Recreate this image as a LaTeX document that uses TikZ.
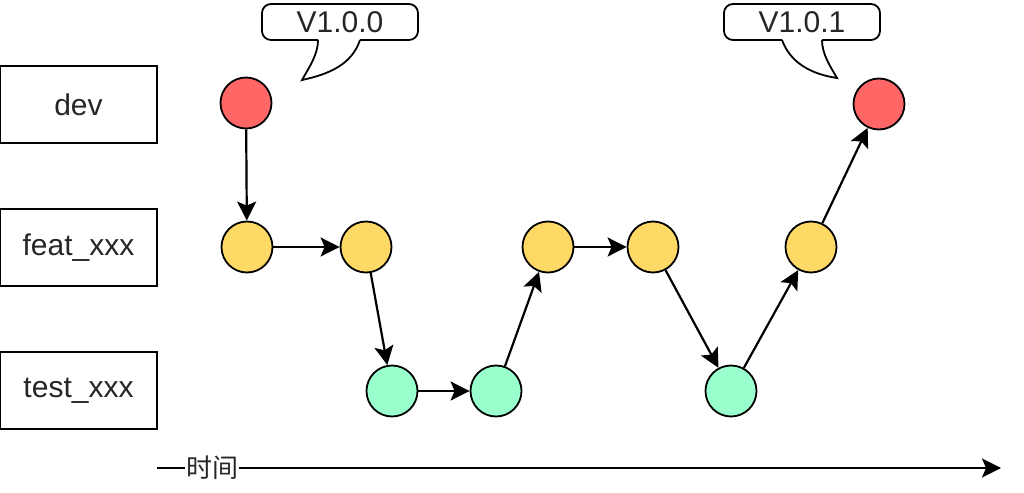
\documentclass[tikz,border=0pt]{standalone}
\usepackage{fontspec}
\setmainfont{Liberation Sans}
\newfontfamily\cjk{Noto Sans CJK SC}
\usetikzlibrary{arrows.meta}
\definecolor{cred}{HTML}{FF6666}
\definecolor{cyel}{HTML}{FFD966}
\definecolor{cgrn}{HTML}{99FFCC}
\begin{document}
\begin{tikzpicture}[x=1pt,y=-1pt,
  lane/.style={draw,line width=2pt,minimum width=157pt,minimum height=77pt,inner sep=0pt,font=\fontsize{30}{34}\selectfont,text=black!85},
  commit/.style={circle,draw,line width=1.8pt,minimum size=51pt,inner sep=0pt},
  conn/.style={line width=2.2pt,-{Stealth[length=19pt,width=19pt,inset=4pt]}},
  lbl/.style={font=\fontsize{30}{34}\selectfont,text=black!85}]
\useasboundingbox (0,0) rectangle (1024,492);
% lanes
\node[lane] (dev) at (78.5,104.5) {dev};
\node[lane] (feat) at (78.5,247.5) {feat\_xxx};
\node[lane] (test) at (78.5,390.5) {test\_xxx};
% commits
\node[commit,fill=cred] (d1) at (246,103) {};
\node[commit,fill=cred] (d2) at (879,104) {};
\node[commit,fill=cyel] (f1) at (247,247) {};
\node[commit,fill=cyel] (f2) at (366,247) {};
\node[commit,fill=cyel] (f3) at (548,247) {};
\node[commit,fill=cyel] (f4) at (653,247) {};
\node[commit,fill=cyel] (f5) at (811,247) {};
\node[commit,fill=cgrn] (t1) at (392,391) {};
\node[commit,fill=cgrn] (t2) at (496,391) {};
\node[commit,fill=cgrn] (t3) at (731,391) {};
% connectors
\draw[conn] (d1) -- (f1);
\draw[conn] (f1) -- (f2);
\draw[conn] (f2) -- (t1);
\draw[conn] (t1) -- (t2);
\draw[conn] (t2) -- (f3);
\draw[conn] (f3) -- (f4);
\draw[conn] (f4) -- (t3);
\draw[conn] (t3) -- (f5);
\draw[conn] (f5) -- (d2);
% callouts
\draw[line width=1.8pt,rounded corners=9pt] (318,40) -- (262,40) -- (262,4) -- (418,4) -- (418,40) -- (360,40);
\draw[line width=1.8pt] (360,40) .. controls (352,64) and (330,74) .. (302,80) .. controls (310,66) and (318,54) .. (318,40);
\node[lbl] (v100) at (340,22) {V1.0.0};
\draw[line width=1.8pt,rounded corners=9pt] (782,40) -- (724,40) -- (724,4) -- (880,4) -- (880,40) -- (822,40);
\draw[line width=1.8pt] (782,40) .. controls (790,62) and (810,74) .. (837,78) .. controls (830,66) and (822,54) .. (822,40);
\node[lbl] (v101) at (802,22) {V1.0.1};
% time axis
\coordinate (ts) at (157,468);
\coordinate (te) at (1001,468);
\draw[line width=2.2pt,-{Stealth[length=19pt,width=19pt,inset=4pt]}] (ts) -- (te);
\node[fill=white,inner sep=1pt,font=\cjk\fontsize{26}{28}\selectfont,text=black!85] (time) at (212,468) {时间};
\end{tikzpicture}
\end{document}
